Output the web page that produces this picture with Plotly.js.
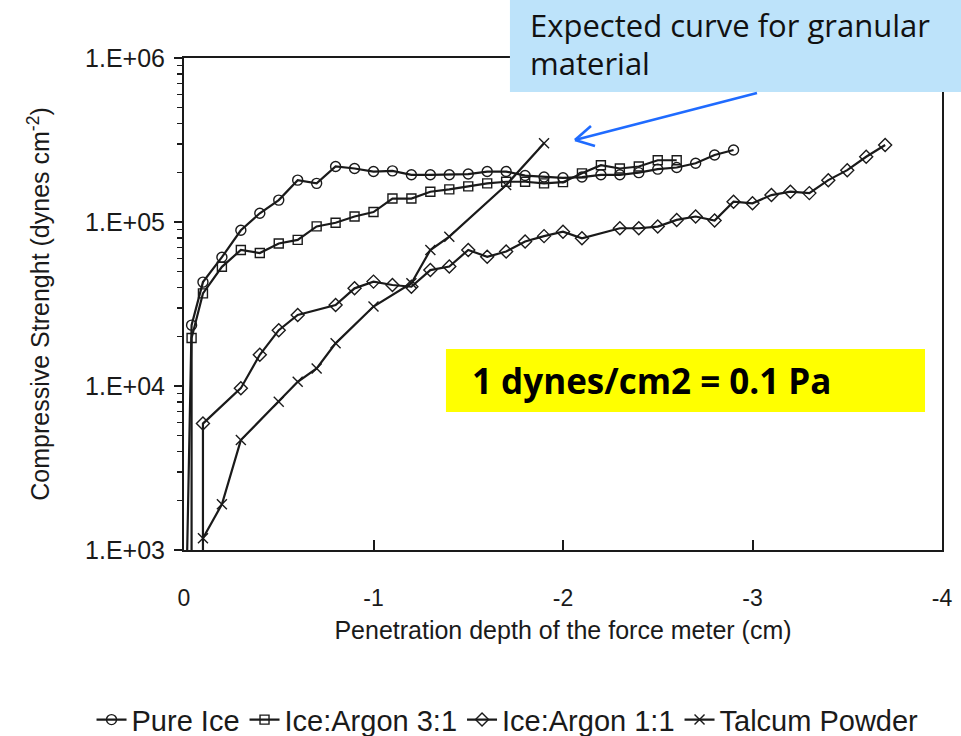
<!DOCTYPE html>
<html>
<head>
<meta charset="utf-8">
<script src="https://cdn.plot.ly/plotly-3.0.1.min.js"></script>
<style>html,body{margin:0;padding:0;background:#fff;overflow:hidden;}#chart{width:961px;height:736px;}</style>
</head>
<body>
<div id="chart"></div>
<script>
// ---- data ----
const seriesNames = ["Pure Ice", "Ice:Argon 3:1", "Ice:Argon 1:1", "Talcum Powder"];

const pureIceX = [0, -0.04, -0.1, -0.2, -0.3, -0.4, -0.5, -0.6, -0.7, -0.8, -0.9, -1.0, -1.1, -1.2, -1.3, -1.4, -1.5, -1.6, -1.7, -1.8, -1.9, -2.0, -2.1, -2.2, -2.3, -2.4, -2.5, -2.6, -2.7, -2.8, -2.9];
const pureIceY = [100, 23500, 43000, 61000, 89000, 113000, 136000, 180000, 172000, 218000, 212000, 203000, 205000, 194000, 194000, 194000, 196000, 203000, 203000, 192000, 188000, 186000, 188000, 194000, 194000, 200000, 210000, 215000, 228000, 256000, 275000];

const argon31X = [-0.04, -0.04, -0.1, -0.2, -0.3, -0.4, -0.5, -0.6, -0.7, -0.8, -0.9, -1.0, -1.1, -1.2, -1.3, -1.4, -1.5, -1.6, -1.7, -1.8, -1.9, -2.0, -2.1, -2.2, -2.3, -2.4, -2.5, -2.6];
const argon31Y = [100, 19600, 36700, 53300, 67500, 64700, 74000, 77800, 94000, 99000, 108000, 115000, 139000, 139000, 153000, 158000, 165000, 172000, 176000, 176000, 172000, 175000, 198000, 222000, 212000, 218000, 238000, 238000];

const argon11X = [-0.1, -0.1, -0.3, -0.4, -0.5, -0.6, -0.8, -0.9, -1.0, -1.1, -1.2, -1.3, -1.4, -1.5, -1.6, -1.7, -1.8, -1.9, -2.0, -2.1, -2.3, -2.4, -2.5, -2.6, -2.7, -2.8, -2.9, -3.0, -3.1, -3.2, -3.3, -3.4, -3.5, -3.6, -3.7];
const argon11Y = [100, 5900, 9700, 15500, 21900, 27100, 31200, 39400, 43300, 41300, 40300, 50900, 53500, 67500, 61400, 66000, 76000, 82000, 87300, 79500, 91600, 91600, 93800, 103000, 108000, 102000, 133000, 130000, 146000, 153000, 150000, 180000, 207000, 250000, 295000];

const talcumX = [-0.1, -0.2, -0.3, -0.5, -0.6, -0.7, -0.8, -1.0, -1.2, -1.3, -1.4, -1.7, -1.9];
const talcumY = [1180, 1900, 4680, 8020, 10600, 12800, 18200, 30500, 42300, 67500, 81400, 168000, 302000];

const yTickVals = [1e3, 1e4, 1e5, 1e6];
const yTickText = ["1.E+03", "1.E+04", "1.E+05", "1.E+06"];
const xTickVals = [0, -1, -2, -3, -4];
const xTickText = ["0", "-1", "-2", "-3", "-4"];

// ---- styling ----
const ink = "#1a1a1a";
const baseFont = "Liberation Sans, Arial, sans-serif";
const noteFont = "Open Sans, Noto Sans, sans-serif";
const arrowColor = "#1f6bff";
const noteBlue = "#BDE3FA";
const minorVals = [];
for (let d = 3; d < 6; d++) for (let m = 2; m <= 9; m++) minorVals.push(m * Math.pow(10, d));

function mk(name, x, y, symbol, size) {
  return {
    type: "scatter", mode: "lines+markers", name: name, x: x, y: y,
    line: {color: ink, width: 2.2},
    marker: {symbol: symbol, size: size, color: ink, line: {color: ink, width: 1.4}},
    cliponaxis: true
  };
}

const traces = [
  mk(seriesNames[0], pureIceX, pureIceY, "circle-open", 10),
  mk(seriesNames[1], argon31X, argon31Y, "square-open", 9),
  mk(seriesNames[2], argon11X, argon11Y, "diamond-open", 10),
  mk(seriesNames[3], talcumX, talcumY, "x-thin-open", 10)
];

function arrowLine(x0, y0, x1, y1) {
  return {type: "line", xref: "paper", yref: "paper", x0: x0, y0: y0, x1: x1, y1: y1,
          line: {color: arrowColor, width: 2.6}, layer: "above"};
}

const layout = {
  width: 961, height: 736,
  margin: {l: 184, r: 19, t: 58, b: 186, autoexpand: false},
  paper_bgcolor: "#ffffff", plot_bgcolor: "#ffffff",
  font: {family: baseFont, color: ink, size: 20},
  showlegend: true,
  legend: {orientation: "h", x: -0.122, xanchor: "left", y: -0.345, yanchor: "middle",
           font: {family: baseFont, size: 29, color: ink}, itemwidth: 30, tracegroupgap: 0,
           bgcolor: "rgba(0,0,0,0)"},
  xaxis: {
    range: [0, -4], tickmode: "array", tickvals: xTickVals, ticktext: xTickText,
    ticks: "inside", ticklen: 10, tickwidth: 2, tickcolor: ink,
    showline: true, linecolor: ink, linewidth: 2, mirror: true,
    showgrid: false, zeroline: false,
    tickfont: {family: baseFont, size: 23, color: ink},
    ticklabelstandoff: 26,
    title: {text: "Penetration depth of the force meter (cm)", font: {family: baseFont, size: 25, color: ink}, standoff: 12}
  },
  yaxis: {
    type: "log", range: [3, 6], tickmode: "array", tickvals: yTickVals, ticktext: yTickText,
    ticks: "outside", ticklen: 8, tickwidth: 2, tickcolor: ink,
    minor: {tickmode: "array", tickvals: minorVals, ticks: "outside", ticklen: 5, tickwidth: 1.5, tickcolor: ink, showgrid: false},
    showline: true, linecolor: ink, linewidth: 2, mirror: true,
    showgrid: false, zeroline: false,
    tickfont: {family: baseFont, size: 25, color: ink},
    ticklabelstandoff: 4,
    title: {text: "Compressive Strenght (dynes cm<sup>-2</sup>)", font: {family: baseFont, size: 25, color: ink}, standoff: 28}
  },
  shapes: [
    {type: "rect", xref: "paper", yref: "paper", x0: 0.430, x1: 1.0251, y0: 0.931, y1: 1.1179,
     fillcolor: noteBlue, line: {width: 0}, layer: "above"},
    {type: "rect", xref: "paper", yref: "paper", x0: 0.3456, x1: 0.9776, y0: 0.2805, y1: 0.4085,
     fillcolor: "#FFFF00", line: {width: 0}, layer: "above"},
    arrowLine(0.7559, 0.9289, 0.5158, 0.8333),
    arrowLine(0.5158, 0.8333, 0.5369, 0.8618),
    arrowLine(0.5158, 0.8333, 0.5422, 0.8211)
  ],
  annotations: [
    {xref: "paper", yref: "paper", x: 0.4538, y: 1.067, xanchor: "left", yanchor: "middle",
     text: "Expected curve for granular", showarrow: false,
     font: {family: noteFont, size: 31, color: "#111"}},
    {xref: "paper", yref: "paper", x: 0.4538, y: 0.990, xanchor: "left", yanchor: "middle",
     text: "material", showarrow: false,
     font: {family: noteFont, size: 31, color: "#111"}},
    {xref: "paper", yref: "paper", x: 0.3773, y: 0.3435, xanchor: "left", yanchor: "middle",
     text: "<b>1 dynes/cm2 = 0.1 Pa</b>", showarrow: false,
     font: {family: noteFont, size: 35, color: "#000"}}
  ]
};

Plotly.newPlot("chart", traces, layout, {staticPlot: true, displayModeBar: false});
</script>
</body>
</html>
